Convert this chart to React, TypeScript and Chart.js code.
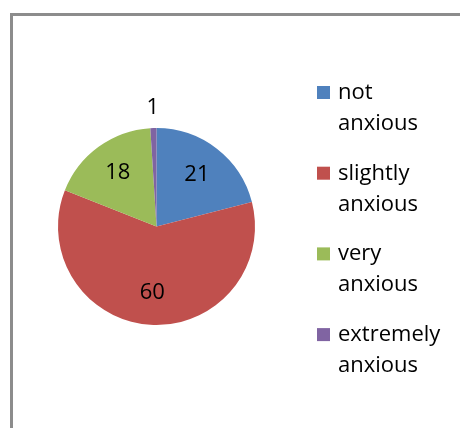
import React, { useEffect, useRef } from "react";
import { Chart, registerables } from "chart.js";

Chart.register(...registerables);

const categories = ["not anxious", "slightly anxious", "very anxious", "extremely anxious"];
const legendLines = [["not", "anxious"], ["slightly", "anxious"], ["very", "anxious"], ["extremely", "anxious"]];
const values = [21, 60, 18, 1];
const colors = ["#4F81BD", "#C0504D", "#9BBB59", "#8064A2"];

const FONT = "22px 'Open Sans'";

const labelPlugin = {
  id: "sliceLabels",
  afterDatasetsDraw(chart: any) {
    const ctx = chart.ctx;
    const meta = chart.getDatasetMeta(0);
    ctx.save();
    ctx.font = FONT;
    ctx.fillStyle = "#000";
    ctx.textAlign = "center";
    ctx.textBaseline = "middle";
    meta.data.forEach((arc: any, i: number) => {
      const { x, y, startAngle, endAngle, outerRadius } = arc.getProps(
        ["x", "y", "startAngle", "endAngle", "outerRadius"],
        true
      );
      const mid = (startAngle + endAngle) / 2;
      const small = (endAngle - startAngle) < 0.2;
      const dist = small ? outerRadius + 20 : outerRadius * 0.67;
      ctx.fillText(String(values[i]), x + Math.cos(mid) * dist, y + Math.sin(mid) * dist);
    });
    ctx.restore();
  },
};

const legendPlugin = {
  id: "customLegend",
  afterDraw(chart: any) {
    const ctx = chart.ctx;
    ctx.save();
    ctx.font = FONT;
    ctx.textAlign = "left";
    ctx.textBaseline = "alphabetic";
    const x0 = 317;
    const firstBaseline = 99;
    const groupGap = 80.7;
    const lineGap = 31;
    categories.forEach((_c, i) => {
      const base = firstBaseline + i * groupGap;
      ctx.fillStyle = colors[i];
      ctx.fillRect(x0, base - 13, 13, 13);
      ctx.fillStyle = "#000";
      legendLines[i].forEach((line, j) => {
        ctx.fillText(line, x0 + 21, base + j * lineGap);
      });
    });
    ctx.restore();
  },
};

export default function App() {
  const ref = useRef<HTMLCanvasElement>(null);
  useEffect(() => {
    if (!ref.current) return;
    const chart = new Chart(ref.current, {
      type: "pie",
      data: {
        labels: categories,
        datasets: [
          {
            data: values,
            backgroundColor: colors,
            borderWidth: 0,
          },
        ],
      },
      options: {
        animation: false,
        responsive: false,
        devicePixelRatio: 1,
        layout: { padding: { left: 58, right: 205, top: 128, bottom: 103 } },
        plugins: {
          legend: { display: false },
          tooltip: { enabled: false },
          title: { display: false },
        },
      },
      plugins: [labelPlugin, legendPlugin],
    });
    return () => chart.destroy();
  }, []);

  return (
    <div style={{ position: "fixed", left: 0, top: 0, width: 460, height: 428, background: "#fff", overflow: "hidden" }}>
      <div
        style={{
          position: "absolute",
          left: 10,
          top: 13,
          width: 470,
          height: 440,
          borderTop: "3px solid #8c8c8c",
          borderLeft: "3px solid #8c8c8c",
        }}
      />
      <canvas ref={ref} width={460} height={428} style={{ position: "absolute", left: 0, top: 0, width: 460, height: 428 }} />
    </div>
  );
}
